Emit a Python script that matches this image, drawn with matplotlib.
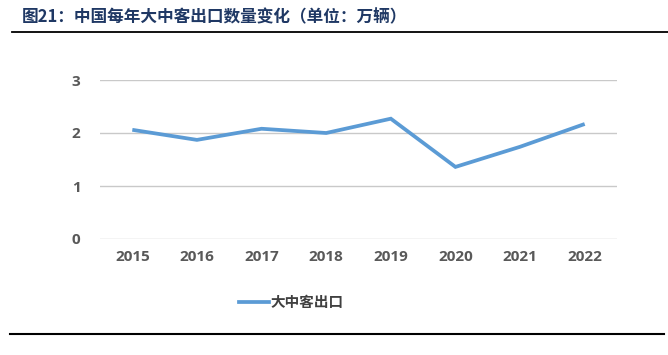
import matplotlib
matplotlib.use("Agg")
import matplotlib.pyplot as plt
from matplotlib.lines import Line2D

plt.rcParams['font.family'] = ['Open Sans', 'Noto Sans CJK SC', 'DejaVu Sans']

years = ["2015", "2016", "2017", "2018", "2019", "2020", "2021", "2022"]
exports = [2.06, 1.87, 2.08, 2.00, 2.27, 1.36, 1.74, 2.17]
yticks = [0, 1, 2, 3]
series_name = "大中客出口"
title = "图21：中国每年大中客出口数量变化（单位：万辆）"

W, H = 668, 355
fig = plt.figure(figsize=(W / 100, H / 100), dpi=100)
ax = fig.add_axes([100 / W, (H - 239) / H, 517 / W, 159 / H])

x = list(range(len(years)))
ax.plot(x, exports, color="#5B9BD5", linewidth=2.7, solid_capstyle="butt",
        solid_joinstyle="miter", zorder=3)
ax.set_xlim(-0.5, len(years) - 0.5)
ax.set_ylim(0, 3)
ax.set_yticks(yticks)
ax.set_xticks(x)
ax.set_xticklabels(years)
ax.grid(axis="y", color="#C9C9C9", linewidth=1.0)
for s in ax.spines.values():
    s.set_visible(False)
ax.tick_params(length=0, labelsize=11, labelcolor="#595959")
ax.tick_params(axis="y", pad=14)
ax.tick_params(axis="x", pad=8)
for lab in ax.get_xticklabels() + ax.get_yticklabels():
    lab.set_fontweight("bold")

# legend
handle = Line2D([], [], color="#5B9BD5", linewidth=2.7)
leg = fig.legend([handle], [series_name], loc="center", bbox_to_anchor=(291 / W, (H - 302) / H),
                 frameon=False, handlelength=2.05, handletextpad=0.1,
                 prop={"family": ["Noto Sans CJK SC"], "weight": "bold", "size": 10.5})
for t in leg.get_texts():
    t.set_color("#404040")

# title
fig.text(22 / W, (H - 17) / H, title, ha="left", va="center", fontsize=12,
         fontweight="bold", color="#1F3864", family=["Noto Sans CJK SC", "DejaVu Sans"])

# rules
fig.add_artist(Line2D([12 / W, 1.0], [(H - 32) / H] * 2, color="#000000", linewidth=1.3))
fig.add_artist(Line2D([10 / W, 664 / W], [(H - 334) / H] * 2, color="#000000", linewidth=1.5))

fig.savefig("out.png", dpi=100, facecolor="white")
